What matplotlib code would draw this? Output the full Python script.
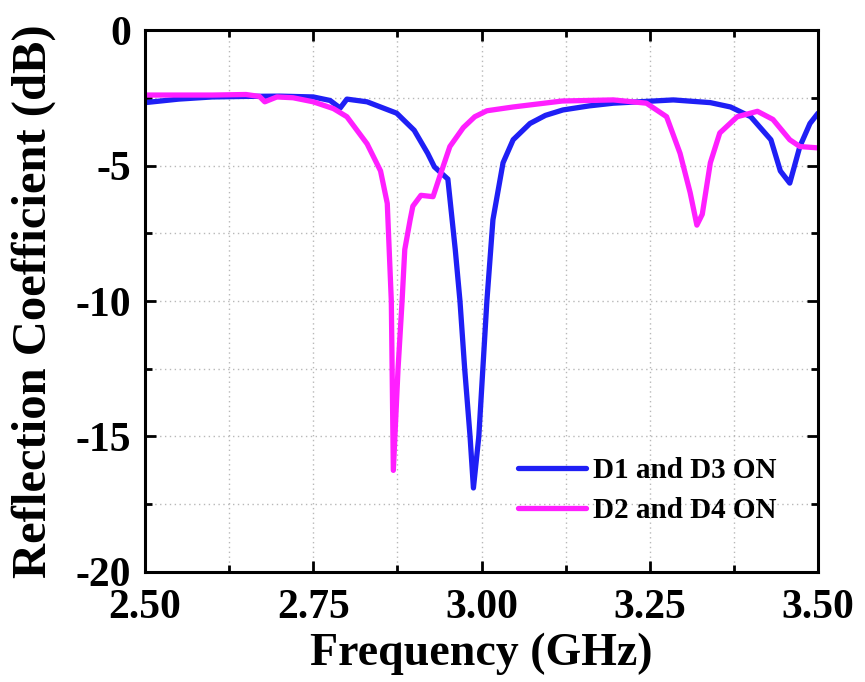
import matplotlib.pyplot as plt
from matplotlib.ticker import MultipleLocator

# D1 and D3 ON
freq_d13 = [2.50, 2.55, 2.60, 2.65, 2.70, 2.75, 2.775, 2.79, 2.80, 2.83, 2.874, 2.90,
            2.92, 2.93, 2.95, 2.961, 2.968, 2.975, 2.983, 2.988, 2.996, 3.002, 3.008,
            3.017, 3.032, 3.047, 3.072, 3.095, 3.121, 3.16, 3.196, 3.285, 3.34, 3.37,
            3.40, 3.43, 3.444, 3.458, 3.473, 3.488, 3.50]
s11_d13 = [-2.68, -2.55, -2.47, -2.45, -2.44, -2.47, -2.6, -2.88, -2.55, -2.65, -3.07, -3.7,
           -4.55, -5.05, -5.5, -8.1, -10.0, -12.5, -15.0, -16.9, -15.0, -12.5, -10.0,
           -7.0, -4.9, -4.05, -3.45, -3.15, -2.95, -2.8, -2.7, -2.58, -2.68, -2.84,
           -3.2, -4.05, -5.2, -5.65, -4.3, -3.45, -3.07]

# D2 and D4 ON
freq_d24 = [2.50, 2.55, 2.60, 2.65, 2.67, 2.678, 2.696, 2.72, 2.75, 2.78, 2.80, 2.83, 2.85,
            2.86, 2.866, 2.869, 2.876, 2.882, 2.886, 2.894, 2.898, 2.91, 2.928, 2.938,
            2.953, 2.973, 2.99, 3.008, 3.047, 3.12, 3.196, 3.245, 3.275, 3.295, 3.31,
            3.32, 3.328, 3.34, 3.354, 3.38, 3.41, 3.433, 3.458, 3.473, 3.50]
s11_d24 = [-2.4, -2.4, -2.4, -2.38, -2.45, -2.65, -2.47, -2.5, -2.65, -2.9, -3.2, -4.2, -5.2,
           -6.4, -10.0, -16.25, -12.5, -10.0, -8.1, -7.0, -6.5, -6.1, -6.15, -5.4,
           -4.3, -3.6, -3.2, -2.98, -2.84, -2.62, -2.58, -2.7, -3.2, -4.55, -6.0,
           -7.2, -6.8, -4.9, -3.8, -3.2, -3.0, -3.3, -4.05, -4.3, -4.35]

plt.rcParams["font.family"] = ["Liberation Serif", "DejaVu Serif"]
plt.rcParams["font.weight"] = "bold"

fig = plt.figure(figsize=(8.65, 6.82), dpi=100)
ax = fig.add_axes([0.1676, 0.1613, 0.7781, 0.7947])

ax.plot(freq_d13, s11_d13, color="#1f1ff5", linewidth=3.8, label="D1 and D3 ON",
        solid_joinstyle="round", solid_capstyle="round")
ax.plot(freq_d24, s11_d24, color="#ff1fff", linewidth=3.8, label="D2 and D4 ON",
        solid_joinstyle="round", solid_capstyle="round")

ax.set_xlim(2.5, 3.5)
ax.set_ylim(-20, 0)
ax.xaxis.set_major_locator(MultipleLocator(0.25))
ax.xaxis.set_minor_locator(MultipleLocator(0.125))
ax.yaxis.set_major_locator(MultipleLocator(5))
ax.yaxis.set_minor_locator(MultipleLocator(2.5))
ax.set_xticklabels([f"{v:.2f}" for v in ax.get_xticks()], fontweight="bold")
ax.set_yticklabels([f"{v:g}" for v in ax.get_yticks()], fontweight="bold")

ax.grid(which="both", color="#b8b8b8", linestyle=(0, (1, 2.5)), linewidth=1.0)
ax.tick_params(which="both", direction="in", top=True, right=True, width=2)
ax.tick_params(axis="x", which="major", length=8, labelsize=30, pad=12)
ax.tick_params(axis="y", which="major", length=8, labelsize=30, pad=10)
ax.tick_params(which="minor", length=5)
for spine in ax.spines.values():
    spine.set_linewidth(2.2)

ax.set_xlabel("Frequency (GHz)", fontsize=33, fontweight="bold", labelpad=4)
ax.set_ylabel("Reflection Coefficient (dB)", fontsize=35, fontweight="bold", labelpad=14)

ax.legend(loc="lower right", bbox_to_anchor=(0.978, 0.04), frameon=False,
          prop={"size": 21, "weight": "bold"}, handlelength=2.35, handletextpad=0.25,
          labelspacing=0.45)

fig.savefig("out.png", dpi=100)
